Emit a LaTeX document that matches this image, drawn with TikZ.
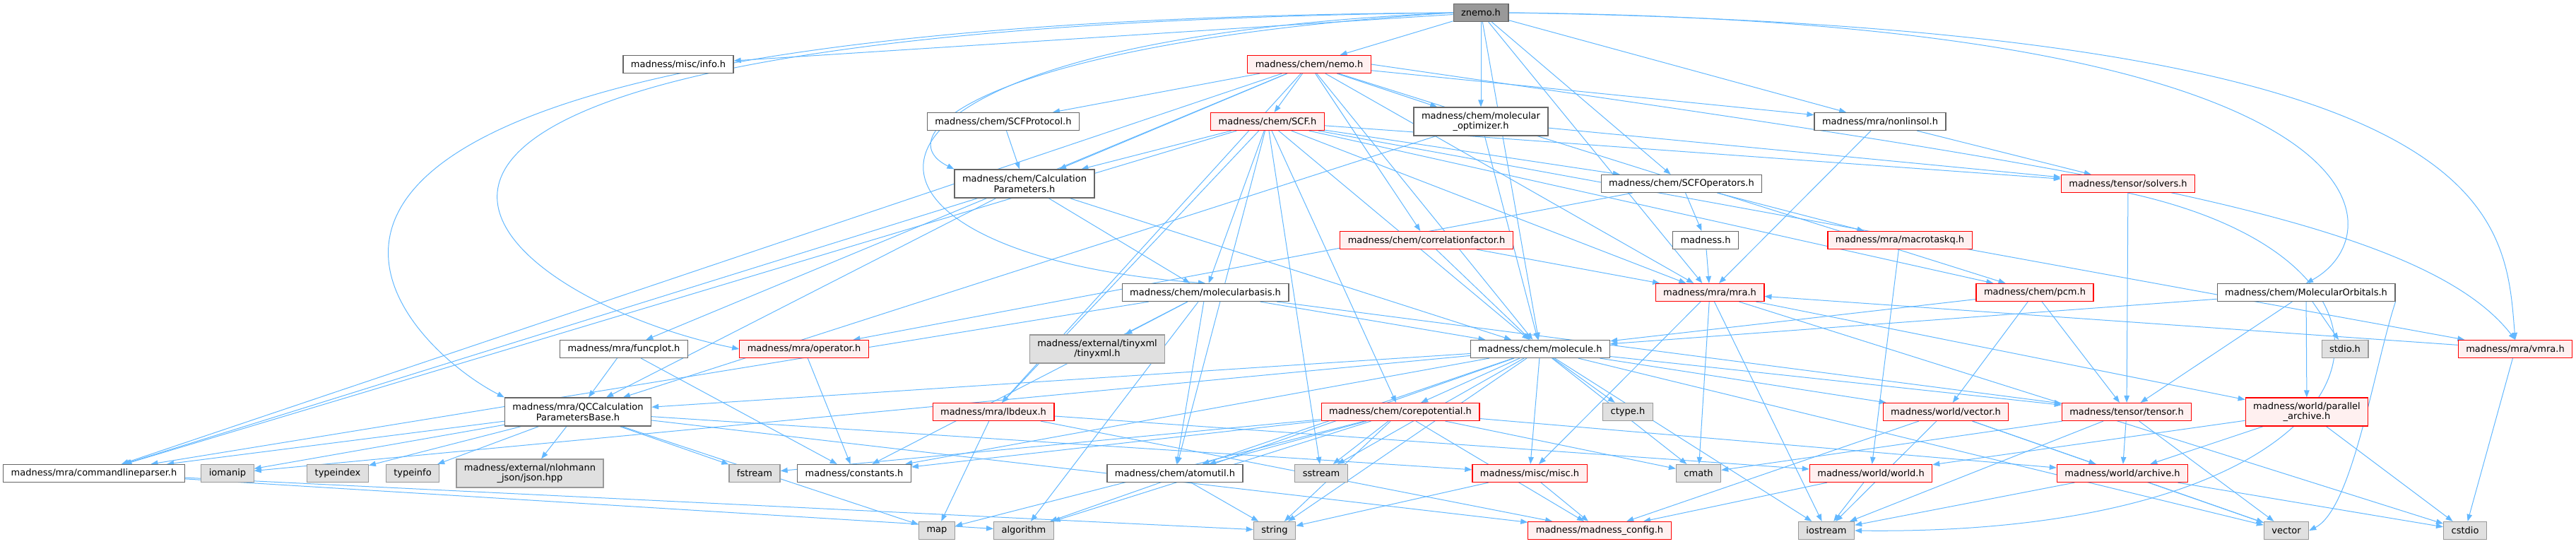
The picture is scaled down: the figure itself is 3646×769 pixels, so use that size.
\documentclass[tikz,border=0pt]{standalone}
\usepackage{fontspec}
\setmainfont{DejaVu Sans}
\usetikzlibrary{arrows.meta,backgrounds}

\definecolor{linkblue}{HTML}{63B8FF}
\definecolor{redfill}{HTML}{FFF0F0}
\definecolor{redline}{HTML}{FF0000}
\definecolor{grayfill}{HTML}{E0E0E0}
\definecolor{grayline}{HTML}{999999}
\definecolor{plainline}{HTML}{666666}
\definecolor{rootfill}{HTML}{999999}

\begin{document}
\begin{tikzpicture}[
  x=1pt, y=1pt,
  hdr/.style={rectangle, draw, line width=1.2pt, inner xsep=11pt, inner ysep=0pt, minimum height=25pt, align=center, font=\fontsize{13}{14.3}\selectfont},
  plainh/.style={hdr, draw=plainline, fill=white},
  redh/.style={hdr, draw=redline, fill=redfill},
  sysh/.style={hdr, draw=grayline, fill=grayfill},
  rooth/.style={hdr, draw=plainline, fill=rootfill},
  tall/.style={minimum height=40pt},
  dep/.style={draw=linkblue, line width=1pt, -{Triangle[length=10pt,width=7.5pt]}},
]
\useasboundingbox (0,0) rectangle (3646,-769);

% Root
\node[rooth] (znemo) at (2096,-18) {znemo.h};

% Row 1
\node[plainh] (info) at (960,-91) {madness/misc/info.h};
\node[redh] (nemo) at (1853,-91) {madness/chem/nemo.h};

% Row 2
\node[plainh] (scfprot) at (1420,-172) {madness/chem/SCFProtocol.h};
\node[redh] (scf) at (1794,-172) {madness/chem/SCF.h};
\node[plainh, tall] (molopt) at (2096,-172) {madness/chem/molecular\\\_optimizer.h};
\node[plainh] (nonlin) at (2661,-172) {madness/mra/nonlinsol.h};

% Row 3
\node[plainh, tall] (calcpar) at (1450,-260) {madness/chem/Calculation\\Parameters.h};
\node[plainh] (scfop) at (2380,-260) {madness/chem/SCFOperators.h};
\node[redh] (solvers) at (3012,-260) {madness/tensor/solvers.h};

% Row 4
\node[redh] (corrfac) at (2019,-340) {madness/chem/correlationfactor.h};
\node[plainh] (madh) at (2414,-340) {madness.h};
\node[redh] (macrotq) at (2689,-340) {madness/mra/macrotaskq.h};

% Row 5
\node[plainh] (molbas) at (1706,-414) {madness/chem/molecularbasis.h};
\node[redh] (mra) at (2420,-414) {madness/mra/mra.h};
\node[redh] (pcm) at (2880,-414) {madness/chem/pcm.h};
\node[plainh] (molorb) at (3264,-414) {madness/chem/MolecularOrbitals.h};

% Row 6
\node[plainh] (funcplot) at (883,-494) {madness/mra/funcplot.h};
\node[redh] (operator) at (1138,-494) {madness/mra/operator.h};
\node[sysh, tall] (tinyxml) at (1553,-494) {madness/external/tinyxml\\/tinyxml.h};
\node[plainh] (molecule) at (2180,-494) {madness/chem/molecule.h};
\node[sysh] (stdio) at (3319,-494) {stdio.h};
\node[redh] (vmra) at (3560,-494) {madness/mra/vmra.h};

% Row 7
\node[plainh, tall] (qccalc) at (818,-583) {madness/mra/QCCalculation\\ParametersBase.h};
\node[redh] (lbdeux) at (1406,-583) {madness/mra/lbdeux.h};
\node[redh] (corepot) at (1982,-583) {madness/chem/corepotential.h};
\node[sysh] (ctype) at (2304,-583) {ctype.h};
\node[redh] (vectorh) at (2754,-583) {madness/world/vector.h};
\node[redh] (tensor) at (3010,-583) {madness/tensor/tensor.h};
\node[redh, tall] (pararch) at (3265,-583) {madness/world/parallel\\\_archive.h};

% Row 8
\node[plainh] (cmdline) at (133,-670) {madness/mra/commandlineparser.h};
\node[sysh] (iomanip) at (322,-670) {iomanip};
\node[sysh] (typeindex) at (478,-670) {typeindex};
\node[sysh] (typeinfo) at (584,-670) {typeinfo};
\node[sysh, tall] (json) at (750,-670) {madness/external/nlohmann\\\_json/json.hpp};
\node[sysh] (fstream) at (1068,-670) {fstream};
\node[plainh] (constants) at (1209,-670) {madness/constants.h};
\node[plainh] (atomutil) at (1663,-670) {madness/chem/atomutil.h};
\node[sysh] (sstream) at (1870,-670) {sstream};
\node[redh] (misc) at (2165,-670) {madness/misc/misc.h};
\node[sysh] (cmath) at (2404,-670) {cmath};
\node[redh] (world) at (2648,-670) {madness/world/world.h};
\node[redh] (archive) at (3004,-670) {madness/world/archive.h};

% Row 9 (system headers)
\node[sysh] (map) at (1326,-751) {map};
\node[sysh] (algorithm) at (1449,-751) {algorithm};
\node[sysh] (string) at (1804,-751) {string};
\node[redh] (config) at (2264,-751) {madness/madness\_config.h};
\node[sysh] (iostream) at (2585,-751) {iostream};
\node[sysh] (vector) at (3236,-751) {vector};
\node[sysh] (cstdio) at (3489,-751) {cstdio};

\begin{scope}[on background layer]
% znemo.h
\draw[dep] (znemo) -- (info);
\draw[dep] (znemo) -- (nemo);
\draw[dep] (znemo) -- (molopt);
\draw[dep] (znemo) -- (molecule);
\draw[dep] (znemo) -- (scfop);
\draw[dep] (znemo) -- (nonlin);
\draw[dep] (znemo) -- (mra);
\draw[dep] (znemo.west) .. controls (1400,-60) and (1250,-190) .. (calcpar.north west);
\draw[dep] (znemo.west) .. controls (1100,-60) and (1150,-360) .. (molbas.north);
\draw[dep] (znemo.west) .. controls (100,-30) and (552,-480) .. (qccalc.north west);
\draw[dep] (znemo.west) .. controls (200,-40) and (680,-420) .. (operator.west);
\draw[dep] (znemo.east) .. controls (3390,-30) and (3395,-330) .. (molorb.north);
\draw[dep] (znemo.east) .. controls (3545,-40) and (3545,-300) .. (vmra.north);

% nemo.h
\draw[dep] (nemo) -- (scfprot);
\draw[dep] (nemo) -- (scf);
\draw[dep] (nemo) -- (molopt);
\draw[dep] (nemo) -- (calcpar);
\draw[dep] (nemo) -- (corrfac);
\draw[dep] (nemo) -- (nonlin);
\draw[dep] (nemo) -- (pcm);
\draw[dep] (nemo) -- (mra);
\draw[dep] (nemo) -- (molecule);
\draw[dep] (nemo) -- (funcplot);
\draw[dep] (nemo) -- (lbdeux);
\draw[dep] (nemo) -- (cmdline);
\draw[dep] (nemo.east) .. controls (2900,-230) and (3420,-300) .. (vmra.north);

% SCFProtocol.h, SCF.h
\draw[dep] (scfprot) -- (calcpar);
\draw[dep] (scf) -- (calcpar);
\draw[dep] (scf) -- (molbas);
\draw[dep] (scf) -- (molecule);
\draw[dep] (scf) -- (corepot);
\draw[dep] (scf) -- (mra);
\draw[dep] (scf) -- (solvers);
\draw[dep] (scf) -- (scfop);
\draw[dep] (scf) -- (pcm);
\draw[dep] (scf) -- (vmra);
\draw[dep] (scf) -- (lbdeux);
\draw[dep] (scf) -- (cmdline);
\draw[dep] (scf) -- (atomutil);
\draw[dep] (scf) -- (sstream);

% molecular_optimizer.h, CalculationParameters.h, nonlinsol.h
\draw[dep] (molopt) -- (molecule);
\draw[dep] (molopt) -- (solvers);
\draw[dep] (molopt) -- (qccalc);
\draw[dep] (calcpar) -- (molbas);
\draw[dep] (calcpar) -- (molecule);
\draw[dep] (calcpar) -- (qccalc);
\draw[dep] (calcpar) -- (cmdline);
\draw[dep] (nonlin) -- (mra);
\draw[dep] (nonlin) -- (solvers);

% SCFOperators.h, solvers.h, correlationfactor.h, madness.h, macrotaskq.h
\draw[dep] (scfop) -- (madh);
\draw[dep] (scfop) -- (macrotq);
\draw[dep] (scfop) -- (operator);
\draw[dep] (solvers) -- (tensor);
\draw[dep] (solvers.south) .. controls (3500,-380) and (3380,-760) .. (iostream.east);
\draw[dep] (corrfac) -- (mra);
\draw[dep] (corrfac) -- (molecule);
\draw[dep] (madh) -- (mra);
\draw[dep] (macrotq) -- (world);

% molecularbasis.h
\draw[dep] (molbas) -- (tinyxml);
\draw[dep] (molbas) -- (molecule);
\draw[dep] (molbas) -- (tensor);
\draw[dep] (molbas) -- (atomutil);
\draw[dep] (molbas) -- (constants);
\draw[dep] (molbas) -- (algorithm);
\draw[dep] (molbas) -- (cmdline);

% mra.h, pcm.h, MolecularOrbitals.h, vmra.h
\draw[dep] (mra) -- (misc);
\draw[dep] (mra) -- (cmath);
\draw[dep] (mra) -- (iostream);
\draw[dep] (mra) -- (pararch);
\draw[dep] (mra) -- (cstdio);
\draw[dep] (pcm) -- (molecule);
\draw[dep] (pcm) -- (vectorh);
\draw[dep] (pcm) -- (tensor);
\draw[dep] (molorb) -- (molecule);
\draw[dep] (molorb) -- (tensor);
\draw[dep] (molorb) -- (stdio);
\draw[dep] (molorb) -- (pararch);
\draw[dep] (molorb.south east) .. controls (3360,-520) and (3330,-720) .. (vector.east);
\draw[dep] (vmra) -- (mra);
\draw[dep] (vmra) -- (cstdio);

% funcplot.h, operator.h
\draw[dep] (funcplot) -- (qccalc);
\draw[dep] (funcplot) -- (constants);
\draw[dep] (operator) -- (constants);

% molecule.h
\draw[dep] (molecule) -- (corepot);
\draw[dep] (molecule) -- (ctype);
\draw[dep] (molecule) -- (misc);
\draw[dep] (molecule) -- (cmath);
\draw[dep] (molecule) -- (sstream);
\draw[dep] (molecule) -- (string);
\draw[dep] (molecule) -- (vectorh);
\draw[dep] (molecule) -- (tensor);
\draw[dep] (molecule) -- (atomutil);
\draw[dep] (molecule) -- (constants);
\draw[dep] (molecule) -- (qccalc);
\draw[dep] (molecule) -- (iomanip);
\draw[dep] (molecule) -- (iostream);
\draw[dep] (molecule) -- (vector);
\draw[dep] (molecule) -- (algorithm);

% QCCalculationParametersBase.h, commandlineparser.h
\draw[dep] (qccalc) -- (cmdline);
\draw[dep] (qccalc) -- (iomanip);
\draw[dep] (qccalc) -- (typeindex);
\draw[dep] (qccalc) -- (typeinfo);
\draw[dep] (qccalc) -- (json);
\draw[dep] (qccalc) -- (fstream);
\draw[dep] (qccalc) -- (map);
\draw[dep] (qccalc) -- (misc);
\draw[dep] (qccalc) -- (config);
\draw[dep] (cmdline) -- (algorithm);
\draw[dep] (cmdline) -- (string);

% lbdeux.h, corepotential.h
\draw[dep] (lbdeux) -- (map);
\draw[dep] (lbdeux) -- (config);
\draw[dep] (lbdeux) -- (world);
\draw[dep] (corepot) -- (constants);
\draw[dep] (corepot) -- (atomutil);
\draw[dep] (corepot) -- (fstream);
\draw[dep] (corepot) -- (map);
\draw[dep] (corepot) -- (sstream);
\draw[dep] (corepot) -- (string);
\draw[dep] (corepot) -- (config);
\draw[dep] (corepot) -- (cmath);
\draw[dep] (corepot) -- (archive);
\draw[dep] (corepot) -- (algorithm);

% world headers
\draw[dep] (vectorh) -- (config);
\draw[dep] (vectorh) -- (iostream);
\draw[dep] (vectorh) -- (archive);
\draw[dep] (vectorh) -- (vector);
\draw[dep] (tensor) -- (archive);
\draw[dep] (tensor) -- (cmath);
\draw[dep] (tensor) -- (vector);
\draw[dep] (tensor) -- (iostream);
\draw[dep] (pararch) -- (archive);
\draw[dep] (pararch) -- (cstdio);
\draw[dep] (pararch) -- (world);
\draw[dep] (world) -- (iostream);
\draw[dep] (world) -- (config);
\draw[dep] (archive) -- (vector);
\draw[dep] (archive) -- (cstdio);
\draw[dep] (archive) -- (iostream);
\draw[dep] (misc) -- (config);
\draw[dep] (misc) -- (string);
\draw[dep] (atomutil) -- (string);
\end{scope}
\end{tikzpicture}
\end{document}
